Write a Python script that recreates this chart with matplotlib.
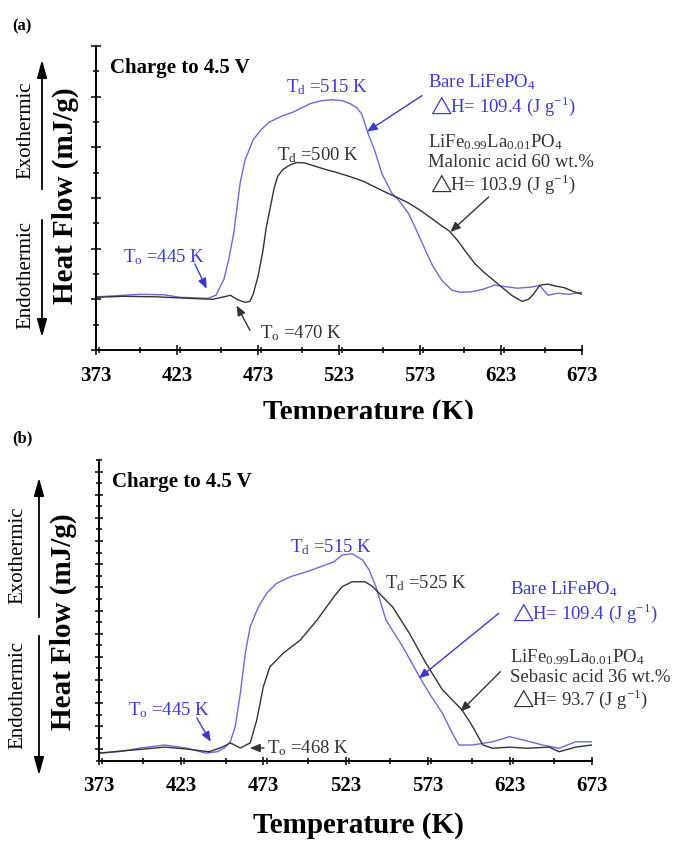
import numpy as np
import matplotlib
matplotlib.use("Agg")
import matplotlib.pyplot as plt
from matplotlib.patches import Rectangle, FancyArrowPatch
from matplotlib.ticker import MultipleLocator

plt.rcParams['font.family'] = ['Liberation Serif', 'DejaVu Serif', 'DejaVu Sans']
plt.rcParams['mathtext.fontset'] = 'custom'
plt.rcParams['mathtext.rm'] = 'Liberation Serif'
plt.rcParams['mathtext.it'] = 'Liberation Serif:italic'
plt.rcParams['mathtext.bf'] = 'Liberation Serif:bold'
plt.rcParams['mathtext.fallback'] = 'stix'

BLUE_LINE = '#6a6ae0'
BLUE_TEXT = '#3a3ad0'
GREY = '#333333'

# ---- panel (a): malonic acid ----
t_bare_a = [373, 385, 400, 415, 425, 435, 442, 447, 452, 455, 458, 460, 462, 465, 470,
            475, 480, 488, 495, 500, 505, 512, 519, 525, 530, 534, 537, 541, 545, 549.5,
            555.7, 560, 566, 571, 576.3, 581, 586.6, 592.7, 598, 605, 612, 619, 626, 633,
            641, 647, 652, 658, 665, 673]
hf_bare_a = [0.05, 0.07, 0.1, 0.09, 0.04, 0.03, 0.02, 0.08, 0.4, 0.8, 1.3, 1.8, 2.3, 2.75, 3.15,
             3.35, 3.5, 3.62, 3.7, 3.78, 3.86, 3.92, 3.94, 3.92, 3.86, 3.78, 3.66, 3.27, 2.94, 2.48,
             2.09, 1.95, 1.69, 1.35, 0.97, 0.65, 0.37, 0.18, 0.14, 0.15, 0.2, 0.28, 0.25, 0.22,
             0.24, 0.27, 0.08, 0.12, 0.1, 0.14]

t_la_a = [373, 390, 410, 430, 445, 452, 456, 460, 465, 468, 470, 473, 476, 478, 480.5,
          483, 485, 488, 491, 494, 497, 502, 508, 515, 522, 530, 538, 545, 552, 559,
          566, 573, 580, 586, 591, 596, 601, 607, 613, 619, 625, 630, 636, 640, 643,
          647, 652, 657, 662, 668, 673]
hf_la_a = [0.04, 0.06, 0.05, 0.02, 0.0, 0.05, 0.08, 0.0, -0.06, -0.04, 0.1, 0.45, 0.95, 1.4, 1.8,
           2.2, 2.42, 2.55, 2.62, 2.67, 2.7, 2.69, 2.63, 2.56, 2.5, 2.42, 2.33, 2.22, 2.11, 2.01,
           1.9, 1.76, 1.6, 1.46, 1.35, 1.17, 0.95, 0.7, 0.52, 0.36, 0.2, 0.07, -0.04, 0.0, 0.1,
           0.28, 0.3, 0.26, 0.23, 0.15, 0.1]

# ---- panel (b): sebasic acid ----
t_bare_b = [373, 385, 398, 413, 426, 438, 444.8, 449, 452.9, 455.9, 459, 462, 465, 470, 475,
            481, 489.5, 499.6, 507.8, 515.9, 521, 527, 533.4, 537.4, 541.5, 547.6, 557.8, 568, 574, 582,
            588, 592, 600, 612.6, 622.8, 631, 643, 653, 663, 673]
hf_bare_b = [-0.16, -0.1, 0.06, 0.19, 0.06, -0.16, -0.1, 0.05, 0.33, 0.98, 2.42, 4.15, 5.3, 6.16, 6.74,
             7.17, 7.46, 7.68, 7.89, 8.1, 8.4, 8.45, 8.18, 7.75, 7.03, 5.59, 4.44, 3.14, 2.42, 1.56,
             0.7, 0.19, 0.19, 0.33, 0.55, 0.41, 0.19, 0.05, 0.33, 0.33]

t_la_b = [373, 385, 398, 413, 426, 440, 448, 453, 459, 465, 469, 473, 477, 485, 495.6,
          505.7, 516, 521, 527, 535, 539.5, 551.6, 561.8, 572, 582, 594, 600.4, 606.6, 612.6, 622.8,
          633, 647, 653, 663, 673]
hf_la_b = [-0.16, -0.08, 0.0, 0.1, 0.02, -0.1, 0.1, 0.28, 0.06, 0.28, 1.27, 2.71, 3.57, 4.15, 4.73,
           5.59, 6.6, 7.03, 7.24, 7.24, 7.03, 6.16, 5.02, 3.72, 2.57, 1.7, 0.98, 0.19, 0.05, 0.1,
           0.05, 0.1, -0.1, 0.1, 0.19]

xticks = [373, 423, 473, 523, 573, 623, 673]

W, H = 684, 842


def fpx(x, y):
    # pixel position in the figure -> figure fraction
    return (x / W, 1 - y / H)


fig = plt.figure(figsize=(6.84, 8.42), dpi=100)
ax_a = fig.add_axes([96 / W, 1 - 350 / H, 486 / W, 304 / H], zorder=0)
ax_b = fig.add_axes([99 / W, 1 - 761 / H, 493 / W, 301 / H], zorder=2)

# white band so that the (a) x label is cut as in the scan
fig.add_artist(Rectangle((0, 0), 1, 1 - 419 / H, transform=fig.transFigure,
                         facecolor='white', edgecolor='none', zorder=1))


def style_axes(ax, ylim):
    ax.set_xlim(373, 673)
    ax.set_ylim(*ylim)
    ax.set_xticks(xticks)
    ax.set_xticklabels([str(t) for t in xticks], fontsize=15, fontweight='bold')
    ax.xaxis.set_minor_locator(MultipleLocator(25))
    ax.yaxis.set_major_locator(MultipleLocator(1))
    ax.yaxis.set_minor_locator(MultipleLocator(0.5))
    ax.set_yticklabels([])
    ax.tick_params(which='both', direction='inout', width=1.1, top=False, right=False)
    ax.tick_params(which='major', length=7)
    ax.tick_params(which='minor', length=4)
    ax.tick_params(axis='x', pad=8)
    for s in ['top', 'right']:
        ax.spines[s].set_visible(False)
    for s in ['left', 'bottom']:
        ax.spines[s].set_linewidth(1.4)
    ax.set_xlabel('Temperature (K)', fontsize=21, fontweight='bold')
    ax.set_ylabel('Heat Flow (mJ/g)', fontsize=21, fontweight='bold')


DH = '$\\triangle\\!\\!$H= '

# ---------- (a) ----------
ax = ax_a
ax.plot(t_bare_a, hf_bare_a, color=BLUE_LINE, lw=1.0)
ax.plot(t_la_a, hf_la_a, color=GREY, lw=1.0)
style_axes(ax, (-1, 5))
ax.xaxis.set_label_coords(0.56, -0.16)
ax.yaxis.set_label_coords(-0.035, 0.507)

ax.text(381.6, 4.56, 'Charge to 4.5 V', fontsize=15, fontweight='bold', va='center')
ax.text(490, 4.18, 'T$_\\mathrm{d}$ =515 K', fontsize=13.5, color=BLUE_TEXT, va='center')
ax.text(484.7, 2.84, 'T$_\\mathrm{d}$ =500 K', fontsize=13.5, color=GREY, va='center')
ax.text(578, 4.48, 'Bare LiFePO$_\\mathrm{4}$\n' + DH + '109.4 (J g$^{-1}$)', fontsize=13.5,
        color=BLUE_TEXT, va='top', linespacing=1.15)
ax.text(578, 3.3, 'LiFe$_\\mathrm{0.99}$La$_\\mathrm{0.01}$PO$_\\mathrm{4}$\nMalonic acid 60 wt.%\n'
        + DH + '103.9 (J g$^{-1}$)', fontsize=13.5, color=GREY, va='top', linespacing=1.15)
ax.text(389.7, 0.83, 'T$_\\mathrm{o}$ =445 K', fontsize=13.5, color=BLUE_TEXT, va='center')
ax.text(474, -0.67, 'T$_\\mathrm{o}$ =470 K', fontsize=13.5, color=GREY, va='center')

arr = dict(arrowstyle='-|>,head_width=0.25,head_length=0.6', lw=1.0, shrinkA=0, shrinkB=0)
ax.annotate('', xy=(540.3, 3.31), xytext=(574.2, 4.02), arrowprops=dict(color=BLUE_TEXT, **arr))
ax.annotate('', xy=(591.7, 1.33), xytext=(615.4, 2.02), arrowprops=dict(color=GREY, **arr))
ax.annotate('', xy=(441.3, 0.21), xytext=(434, 0.7), arrowprops=dict(color=BLUE_TEXT, **arr))
ax.annotate('', xy=(459.8, -0.12), xytext=(468, -0.61), arrowprops=dict(color=GREY, **arr))

# ---------- (b) ----------
ax = ax_b
ax.plot(t_bare_b, hf_bare_b, color=BLUE_LINE, lw=1.0)
ax.plot(t_la_b, hf_la_b, color=GREY, lw=1.0)
style_axes(ax, (-0.5, 12.5))
ax.tick_params(which='major', length=6)
ax.xaxis.set_label_coords(0.526, -0.17)
ax.yaxis.set_label_coords(-0.045, 0.462)

ax.text(380.9, 11.56, 'Charge to 4.5 V', fontsize=15, fontweight='bold', va='center')
ax.text(489.2, 8.74, 'T$_\\mathrm{d}$ =515 K', fontsize=13.5, color=BLUE_TEXT, va='center')
ax.text(547, 7.19, 'T$_\\mathrm{d}$ =525 K', fontsize=13.5, color=GREY, va='center')
ax.text(623.2, 7.35, 'Bare LiFePO$_\\mathrm{4}$\n' + DH + '109.4 (J g$^{-1}$)', fontsize=13.5,
        color=BLUE_TEXT, va='top', linespacing=1.15)
ax.text(623.2, 4.42, 'LiFe$_\\mathrm{0.99}$La$_\\mathrm{0.01}$PO$_\\mathrm{4}$\nSebasic acid 36 wt.%\n'
        + DH + '93.7 (J g$^{-1}$)', fontsize=13.5, color=GREY, va='top', linespacing=1.15)
ax.text(390.7, 1.7, 'T$_\\mathrm{o}$ =445 K', fontsize=13.5, color=BLUE_TEXT, va='center')
ax.text(475, 0.06, 'T$_\\mathrm{o}$ =468 K', fontsize=13.5, color=GREY, va='center')

ax.annotate('', xy=(567.6, 3.07), xytext=(616.3, 5.88), arrowprops=dict(color=BLUE_TEXT, **arr))
ax.annotate('', xy=(592.9, 1.63), xytext=(617.3, 3.36), arrowprops=dict(color=GREY, **arr))
ax.annotate('', xy=(441, 0.33), xytext=(432.5, 1.36), arrowprops=dict(color=BLUE_TEXT, **arr))
ax.annotate('', xy=(464.9, 0.06), xytext=(473.4, 0.06), arrowprops=dict(color=GREY, **arr))

# ---------- panel letters and exo / endo arrows ----------
fig.text(*fpx(12, 26), '(a)', fontsize=12, fontweight='bold', va='center', zorder=3)
fig.text(*fpx(12, 438), '(b)', fontsize=12, fontweight='bold', va='center', zorder=3)

side = [  # (text x, exo text y, endo text y, arrow x, exo from/to, endo from/to)
    (26, 130, 275, 42, (192, 57), (217, 340)),
    (18, 555, 695, 39, (620, 475), (633, 778)),
]
for tx, ey, ny, axx, exo, endo in side:
    fig.text(*fpx(tx, ey), 'Exothermic', rotation=90, fontsize=15, ha='center', va='center', zorder=3)
    fig.text(*fpx(tx, ny), 'Endothermic', rotation=90, fontsize=15, ha='center', va='center', zorder=3)
    for y0, y1 in (exo, endo):
        fig.add_artist(FancyArrowPatch(fpx(axx, y0), fpx(axx, y1), transform=fig.transFigure,
                                       arrowstyle='-|>,head_width=0.25,head_length=0.9',
                                       mutation_scale=12, lw=1.3, color='black', zorder=3))

fig.savefig('out.png', dpi=100, facecolor='white')
